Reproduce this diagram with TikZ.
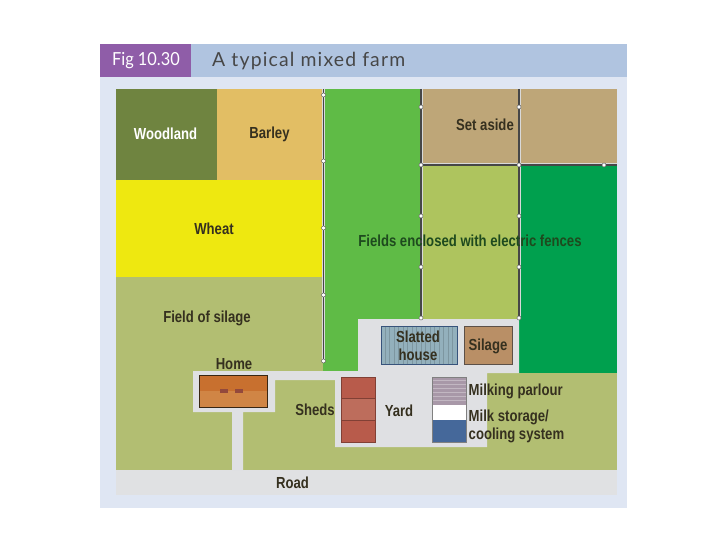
\documentclass[tikz,border=0pt]{standalone}
\usepackage{fontspec}
\setmainfont{Liberation Sans}
\newfontfamily\lblfont[FakeStretch=0.82]{Liberation Sans Bold}
\newfontfamily\figfont[FakeStretch=0.91]{Lato}
\newfontfamily\titlefont[LetterSpace=6]{Lato}
\definecolor{panel}{HTML}{DFE6F3}
\definecolor{purp}{HTML}{8F5DA8}
\definecolor{hblue}{HTML}{B0C4E0}
\definecolor{wood}{HTML}{6F8440}
\definecolor{barley}{HTML}{E2BE64}
\definecolor{wheat}{HTML}{EEE810}
\definecolor{silfield}{HTML}{B2BE72}
\definecolor{bright}{HTML}{5FBB46}
\definecolor{aside}{HTML}{BEA678}
\definecolor{lightg}{HTML}{AEC45E}
\definecolor{darkg}{HTML}{00A04E}
\definecolor{roadc}{HTML}{E0E1E3}
\definecolor{yardc}{HTML}{DFE0E3}
\definecolor{slat}{HTML}{93B0BC}
\definecolor{silb}{HTML}{B98F66}
\definecolor{shedA}{HTML}{B85B4B}
\definecolor{shedB}{HTML}{BD6D5C}
\definecolor{milk}{HTML}{A898A8}
\definecolor{coolc}{HTML}{45689A}
\definecolor{homeA}{HTML}{C8702F}
\definecolor{homeB}{HTML}{D08545}
\definecolor{txt}{HTML}{35301F}
\definecolor{edgec}{HTML}{5C5048}
\definecolor{fieldtxt}{HTML}{1E4A1E}
\tikzset{
  x=1pt,y=-1pt,
  lbl/.style={font=\lblfont\fontsize{16}{17.5}\selectfont,text=txt,inner sep=0pt,align=left},
  fencewhite/.style={draw=white!85!black,line width=3pt},
  fencedark/.style={draw=black!72,line width=1.8pt},
  knob/.style={circle,draw=black!60,fill=white,line width=0.5pt,minimum size=4pt,inner sep=0pt},
  bld/.style={draw=edgec,line width=0.8pt},
}
\newcommand{\knobs}[2]{\foreach \k in {#2} {\node[knob] at (#1,\k) {};}}
\begin{document}
\begin{tikzpicture}
\useasboundingbox (0,0) rectangle (720,540);
\fill[white] (0,0) rectangle (720,540);
\fill[panel] (100,44) rectangle (627,508);
\fill[hblue] (191,44) rectangle (627,77);
\fill[purp] (100,44) rectangle (191,77);
\node[font=\figfont\fontsize{18}{20}\selectfont,text=white,inner sep=0pt] (fig) at (146,61) {Fig 10.30};
\node[font=\titlefont\fontsize{19.4}{20}\selectfont,text=black!72,inner sep=0pt,anchor=west] (title) at (212,61) {A typical mixed farm};
% fields
\fill[wood] (116,89) rectangle (217,180);
\fill[barley] (217,89) rectangle (323,180);
\fill[wheat] (116,180) rectangle (323,277);
\fill[silfield] (116,277) rectangle (323,470);
\fill[silfield] (243,371) rectangle (487,470);
\fill[silfield] (487,373) rectangle (617,470);
\fill[bright] (323,89) rectangle (421,371);
\fill[aside] (421,89) rectangle (617,165);
\fill[lightg] (421,165) rectangle (519,319);
\fill[darkg] (519,165) rectangle (617,373);
\fill[roadc] (116,470) rectangle (617,495);
% yard and tracks
\fill[yardc] (358,319) -- (519,319) -- (519,373) -- (487,373) -- (487,447) -- (335,447) -- (335,380) -- (275,380) -- (275,412) -- (243,412) -- (243,470) -- (232,470) -- (232,412) -- (193,412) -- (193,371) -- (358,371) -- cycle;
% fences
\foreach \x/\yb in {323.5/362,421/318,519/318} {
  \draw[fencewhite] (\x,89) -- (\x,\yb);
  \draw[fencedark] (\x,89) -- (\x,\yb);
}
\draw[fencewhite] (421,165) -- (617,165);
\draw[fencedark] (421,165) -- (617,165);
\knobs{323.5}{95,161,228,295,361}
\knobs{421}{107,165,216,267,318}
\knobs{519}{107,165,216,267,318}
\node[knob] at (604,165) {};
% slatted house
\fill[slat] (381.5,326) rectangle (457,364);
\foreach \x in {385,389.5,...,455} {\draw[black!15!slat,line width=0.7pt] (\x,326) -- (\x,364);}
\draw[draw=coolc!80!black,line width=0.8pt] (381.5,326) rectangle (457,364);
% silage
\draw[bld,fill=silb] (464,326) rectangle (512,364);
% sheds
\fill[shedA] (341,377) rectangle (375,398.5);
\fill[shedB] (341,398.5) rectangle (375,420);
\fill[shedA] (341,420) rectangle (375,442);
\draw[draw=shedA!70!black,line width=0.7pt] (341,377) rectangle (375,442) (341,398.5) -- (375,398.5) (341,420) -- (375,420);
% milking block
\fill[milk] (432,377) rectangle (466,405);
\foreach \y in {380.5,384.5,...,404} {\draw[white!30!milk,line width=0.8pt] (432,\y) -- (466,\y);}
\fill[white] (432,405) rectangle (466,420);
\fill[coolc] (432,420) rectangle (466,442);
\draw[draw=black!50,line width=0.6pt] (432,377) rectangle (466,442);
% home
\fill[homeA] (199,375) rectangle (267,391);
\fill[homeB] (199,391) rectangle (267,407);
\draw[draw=black!70!brown,line width=0.8pt] (199,375) rectangle (267,407);
\fill[shedA!80!black] (219.5,389) rectangle (228,393);
\fill[shedA!80!black] (234.5,389) rectangle (243,393);
% labels
\node[lbl,text=white] (woodland) at (165.5,133.5) {Woodland};
\node[lbl] (barleyl) at (269.5,134) {Barley};
\node[lbl] (setaside) at (485,124.5) {Set aside};
\node[lbl] (wheatl) at (214,229) {Wheat};
\node[lbl,text=fieldtxt] (fields) at (470,240.5) {Fields enclosed with electric fences};
\node[lbl] (fsil) at (207,318) {Field of silage};
\node[lbl,align=center] (slatted) at (418,346) {Slatted\\house};
\node[lbl] (silagel) at (488,346) {Silage};
\node[lbl] (homel) at (234,364.5) {Home};
\node[lbl] (sheds) at (315,410) {Sheds};
\node[lbl] (yard) at (399,411) {Yard};
\node[lbl,anchor=west] (parlour) at (468.5,391.5) {Milking parlour};
\node[lbl,anchor=north west] (storage) at (468.5,410) {Milk storage/\\cooling system};
\node[lbl] (road) at (292.5,482.5) {Road};
\end{tikzpicture}
\end{document}
